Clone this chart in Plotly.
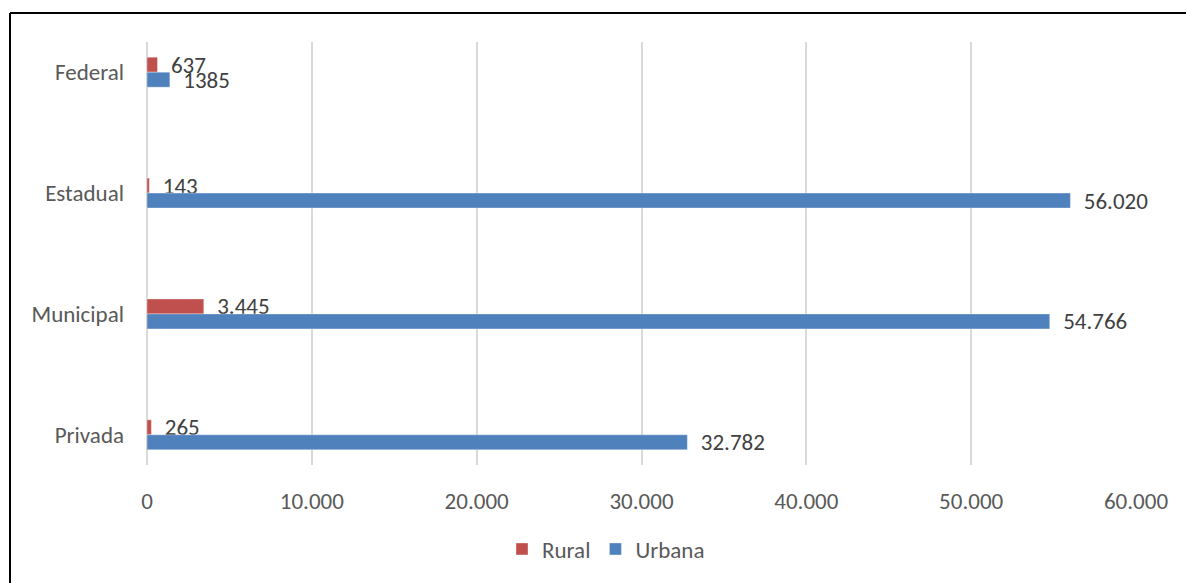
import plotly.graph_objects as go

categories = ["Federal", "Estadual", "Municipal", "Privada"]
rural = [637, 143, 3445, 265]
urbana = [1385, 56020, 54766, 32782]
rural_labels = ["637", "143", "3.445", "265"]
urbana_labels = ["1385", "56.020", "54.766", "32.782"]
x_tick_vals = [0, 10000, 20000, 30000, 40000, 50000, 60000]
x_tick_text = ["0", "10.000", "20.000", "30.000", "40.000", "50.000", "60.000"]

FONT = "Calibri, Carlito, Lato, sans-serif"
PAD = "\u00a0\u00a0"

fig = go.Figure()
fig.add_trace(go.Bar(
    name="Rural", y=categories, x=rural, orientation="h",
    marker=dict(color="#C0504D", line=dict(color="rgba(255,255,255,0.6)", width=0.6)),
    text=[PAD + t for t in rural_labels], textposition="outside",
    textfont=dict(family=FONT, size=23, color="#404040"),
    constraintext="none", cliponaxis=False,
))
fig.add_trace(go.Bar(
    name="Urbana", y=categories, x=urbana, orientation="h",
    marker=dict(color="#4F81BD", line=dict(color="rgba(255,255,255,0.6)", width=0.6)),
    text=[PAD + t for t in urbana_labels], textposition="outside",
    textfont=dict(family=FONT, size=23, color="#404040"),
    constraintext="none", cliponaxis=False,
))

L, R, T, B = 147, 50, 42, 118
W, H = 1186, 583
pw, ph = W - L - R, H - T - B

def px(xp):
    return (xp - L) / pw

def py(yp):
    return (H - B - yp) / ph

fig.update_layout(
    width=W, height=H,
    margin=dict(l=L, r=R, t=T, b=B, pad=0),
    paper_bgcolor="white", plot_bgcolor="white",
    barmode="group", bargap=0.752, bargroupgap=0,
    font=dict(family=FONT, size=23, color="#595959"),
    showlegend=True,
    legend=dict(orientation="h", x=px(606), xanchor="center", y=py(549), yanchor="middle",
                font=dict(family=FONT, size=23, color="#595959"), traceorder="normal",
                itemwidth=30),
    xaxis=dict(range=[0, 60000], tickvals=x_tick_vals, ticktext=x_tick_text,
               showgrid=True, gridcolor="#D9D9D9", gridwidth=1.5,
               zeroline=True, zerolinecolor="#D9D9D9", zerolinewidth=1.5,
               showline=False, ticks="", ticklabelstandoff=20,
               tickfont=dict(family=FONT, size=23, color="#595959")),
    yaxis=dict(categoryorder="array", categoryarray=categories,
               range=[3.25, -0.25], showgrid=False, zeroline=False, showline=False,
               ticks="", ticklabelstandoff=22,
               tickfont=dict(family=FONT, size=23, color="#595959")),
    shapes=[
        dict(type="line", xref="paper", yref="paper", x0=px(10), x1=px(W + 5), y0=py(13), y1=py(13),
             line=dict(color="black", width=2)),
        dict(type="line", xref="paper", yref="paper", x0=px(10), x1=px(10), y0=py(13), y1=py(H + 5),
             line=dict(color="black", width=2)),
    ],
)

fig.write_html("out.html")
